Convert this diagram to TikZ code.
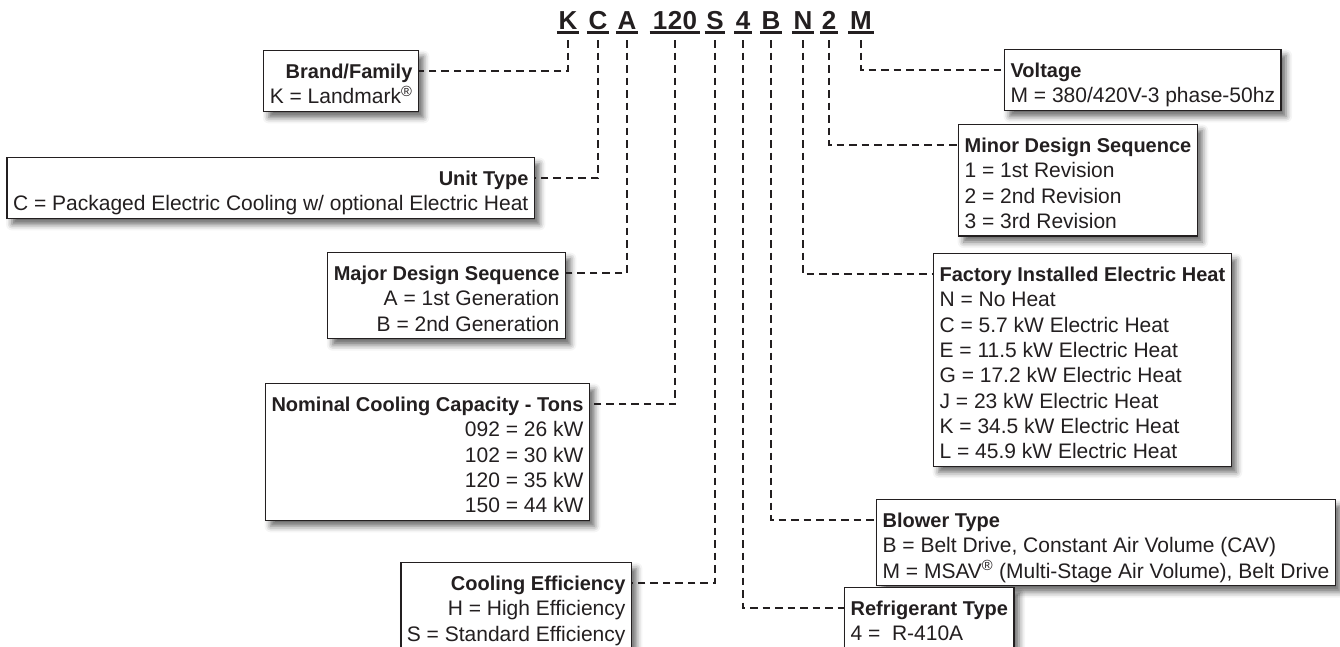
\documentclass[tikz,border=0pt]{standalone}
\usepackage{fontspec}
\setmainfont{Liberation Sans}
\usetikzlibrary{shadows.blur}
\definecolor{ink}{HTML}{231F20}

\newcommand{\keyhead}[1]{\rule{0pt}{28pt}{\fontsize{20}{25.3}\selectfont\bfseries #1}}
\newcommand{\keyend}{\rule[-7.5pt]{0pt}{7.5pt}}

\begin{document}
\begin{tikzpicture}[x=1pt,y=-1pt]
        \tikzset{
          codechar/.style = {font=\fontsize{26}{26}\selectfont\bfseries, text=ink, anchor=base, inner xsep=1.5pt, inner ysep=3pt, text depth=0pt},
          codebar/.style  = {ink, line width=2.6pt},
          leader/.style   = {ink, line width=2.4pt, dash pattern=on 7.5pt off 5pt},
          keybox/.style   = {draw=ink, line width=1.2pt, fill=white, inner xsep=6pt, inner ysep=0pt,
                             font=\fontsize{21}{25.3}\selectfont, text=ink,
                             blur shadow={shadow xshift=5pt, shadow yshift=-6pt, shadow blur radius=6pt, shadow opacity=60}},
          leftkey/.style  = {keybox, align=right, anchor=north east},
          rightkey/.style = {keybox, align=left, anchor=north west}
        }
        \useasboundingbox (0,0) rectangle (1340,646);

        % model number
        \node[codechar] (k) at (568,29) {K};
        \node[codechar] (c) at (598,29) {C};
        \node[codechar] (a) at (627,29) {A};
        \node[codechar, inner xsep=3pt] (cap) at (675,29) {1\kern0.5pt2\kern0.5pt0};
        \node[codechar] (s) at (715,29) {S};
        \node[codechar] (r) at (743,29) {4};
        \node[codechar] (b) at (771,29) {B};
        \node[codechar] (n) at (803,29) {N};
        \node[codechar] (two) at (829,29) {2};
        \node[codechar] (m) at (861,29) {M};

        \draw[codebar] (k.south west) -- (k.south east);
        \draw[codebar] (c.south west) -- (c.south east);
        \draw[codebar] (a.south west) -- (a.south east);
        \draw[codebar] (cap.south west) -- (cap.south east);
        \draw[codebar] (s.south west) -- (s.south east);
        \draw[codebar] (r.south west) -- (r.south east);
        \draw[codebar] (b.south west) -- (b.south east);
        \draw[codebar] (n.south west) -- (n.south east);
        \draw[codebar] (two.south west) -- (two.south east);
        \draw[codebar] (m.south west) -- (m.south east);

        % left side
        \node[leftkey] (brand) at (419,50) {\keyhead{Brand/Family}\\K = Landmark\textsuperscript{®}\keyend};
        \node[leftkey] (unit) at (535,157) {\keyhead{Unit Type}\\C = Packaged Electric Cooling w/ optional Electric Heat\keyend};
        \node[leftkey] (major) at (566,252) {\keyhead{Major Design Sequence}\\A = 1st Generation\\B = 2nd Generation\keyend};
        \node[leftkey] (tons) at (590,383) {\keyhead{Nominal Cooling Capacity - Tons}\\092 = 26 kW\\102 = 30 kW\\120 = 35 kW\\150 = 44 kW\keyend};
        \node[leftkey] (eff) at (632,562) {\keyhead{Cooling Efficiency}\\H = High Efficiency\\S = Standard Efficiency\keyend};

        % right side
        \node[rightkey] (volt) at (1004,49) {\keyhead{Voltage}\\M = 380/420V-3 phase-50hz\keyend};
        \node[rightkey] (minor) at (958,124) {\keyhead{Minor Design Sequence}\\1 = 1st Revision\\2 = 2nd Revision\\3 = 3rd Revision\keyend};
        \node[rightkey] (heat) at (933,253) {\keyhead{Factory Installed Electric Heat}\\N = No Heat\\C = 5.7 kW Electric Heat\\E = 11.5 kW Electric Heat\\G = 17.2 kW Electric Heat\\J = 23 kW Electric Heat\\K = 34.5 kW Electric Heat\\L = 45.9 kW Electric Heat\keyend};
        \node[rightkey] (blower) at (876,499) {\keyhead{Blower Type}\\B = Belt Drive, Constant Air Volume (CAV)\\M = MSAV\textsuperscript{®} (Multi-Stage Air Volume), Belt Drive\keyend};
        \node[rightkey] (refr) at (844,587) {\keyhead{Refrigerant Type}\\4 = \ R-410A\keyend};

        % leaders
        \draw[leader] ([yshift=-8pt]k.south) |- ([yshift=-21pt]brand.north east);
        \draw[leader] ([yshift=-8pt]c.south) |- ([yshift=-21pt]unit.north east);
        \draw[leader] ([yshift=-8pt]a.south) |- ([yshift=-21pt]major.north east);
        \draw[leader] ([yshift=-8pt]cap.south) |- ([yshift=-21pt]tons.north east);
        \draw[leader] ([yshift=-8pt]s.south) |- ([yshift=-21pt]eff.north east);
        \draw[leader] ([yshift=-8pt]r.south) |- ([yshift=-21pt]refr.north west);
        \draw[leader] ([yshift=-8pt]b.south) |- ([yshift=-21pt]blower.north west);
        \draw[leader] ([yshift=-8pt]n.south) |- ([yshift=-21pt]heat.north west);
        \draw[leader] ([yshift=-8pt]two.south) |- ([yshift=-21pt]minor.north west);
        \draw[leader] ([yshift=-8pt]m.south) |- ([yshift=-21pt]volt.north west);
\end{tikzpicture}
\end{document}
